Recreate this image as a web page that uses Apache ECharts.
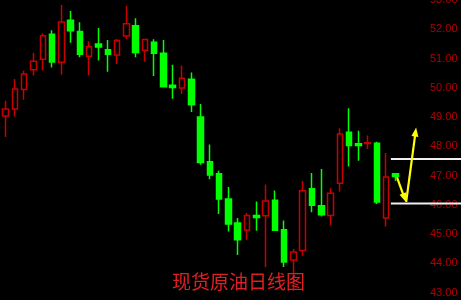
<!DOCTYPE html>
<html><head><meta charset="utf-8">
<script src="https://cdn.jsdelivr.net/npm/echarts@6/dist/echarts.min.js"></script>
<style>html,body{margin:0;padding:0;background:#000}#c{width:461px;height:300px}</style>
</head><body><div id="c"></div>
<script>
// 46 trading-day slots (the last three are empty future slots)
const categories = ['D01','D02','D03','D04','D05','D06','D07','D08','D09','D10','D11','D12','D13','D14','D15','D16','D17','D18','D19','D20','D21','D22','D23','D24','D25','D26','D27','D28','D29','D30','D31','D32','D33','D34','D35','D36','D37','D38','D39','D40','D41','D42','D43','D44','D45','D46'];
const opens  = [49.04,49.28,49.94,50.62,50.98,51.83,50.87,52.31,51.92,51.08,51.50,51.30,51.12,51.77,52.12,51.28,51.56,51.18,50.09,49.99,50.29,49.00,47.47,47.06,46.20,45.38,45.14,45.64,45.63,46.16,45.15,44.12,44.44,46.55,45.97,45.64,46.74,48.48,48.09,48.10,48.11,45.55,47.06];
const closes = [49.28,49.96,50.47,50.91,51.78,50.88,52.25,51.95,51.15,51.40,51.39,51.15,51.62,52.19,51.21,51.65,51.18,50.04,50.01,50.33,49.42,47.45,47.02,46.20,45.35,44.81,45.64,45.57,46.13,45.13,44.05,44.39,46.48,45.99,45.66,46.40,48.42,48.03,48.03,48.12,46.10,46.95,46.97];
const lows   = [48.32,49.02,49.59,50.42,50.59,50.69,50.45,51.54,51.04,50.42,50.93,50.55,50.81,51.66,51.04,50.89,50.40,50.02,49.63,49.79,49.17,47.37,46.88,45.69,45.09,44.29,44.81,45.12,43.88,45.12,43.88,43.07,44.26,45.75,45.60,45.30,46.46,47.31,47.51,47.91,46.03,45.26,46.82];
const highs  = [49.56,50.30,50.58,51.20,51.86,51.97,52.83,52.62,52.24,51.59,52.04,51.63,51.67,52.80,52.38,51.68,51.66,51.63,50.79,50.76,50.52,49.45,48.06,47.17,46.61,45.55,45.72,46.12,46.70,46.49,45.47,44.49,46.82,47.09,47.23,46.57,48.62,49.30,48.53,48.37,48.16,47.77,47.06];
const yTicks = [43,44,45,46,47,48,49,50,51,52,53];
const levelLines = [47.57, 46.05];   // resistance / support
const levelStartIndex = 42;
// arrows: [[xIndex, value] start, [xIndex, value] end]
const arrows = [
  [[42.15, 46.95], [43.12, 46.10]],
  [[43.15, 46.10], [44.22, 48.64]]
];
const titleText = '现货原油日线图';

const candleData = opens.map((o, i) => [o, closes[i], lows[i], highs[i]]);

function toPx(api, x, y) {
  const base = Math.floor(x);
  const bw = api.size([1, 0])[0];
  const p = api.coord([base, y]);
  return [p[0] + (x - base) * bw, p[1]];
}

const chart = echarts.init(document.getElementById('c'), null, {renderer: 'canvas'});
chart.setOption({
  backgroundColor: '#000',
  animation: false,
  title: {
    text: titleText, left: 172, top: 272, padding: 0,
    textStyle: {color: '#e02020', fontSize: 19, fontWeight: 'normal', fontFamily: 'Noto Sans CJK SC'}
  },
  grid: {left: 1, right: 33, top: 0, bottom: 7.3, containLabel: false, outerBoundsMode: 'none'},
  xAxis: {
    type: 'category', data: categories, boundaryGap: true,
    axisLine: {show: false}, axisTick: {show: false}, axisLabel: {show: false}, splitLine: {show: false}
  },
  yAxis: {
    type: 'value', position: 'right', min: yTicks[0], max: yTicks[yTicks.length - 1], interval: 1,
    axisLine: {show: false}, axisTick: {show: false}, splitLine: {show: false},
    axisLabel: {color: '#b00000', fontSize: 11, margin: 2, fontFamily: 'Liberation Sans',
      formatter: v => v.toFixed(2)}
  },
  series: [
    {
      type: 'candlestick', data: candleData, barWidth: 6,
      itemStyle: {color: '#000', color0: '#00ff00', borderColor: '#c80000', borderColor0: '#00ff00', borderWidth: 1.5}
    },
    {
      type: 'custom', clip: false, silent: true,
      data: levelLines.map(v => [levelStartIndex, v]),
      renderItem: (params, api) => {
        const p = api.coord([api.value(0), api.value(1)]);
        const bw = api.size([1, 0])[0];
        return {type: 'line', shape: {x1: p[0] - bw / 2, y1: p[1], x2: api.getWidth(), y2: p[1]},
          style: {stroke: '#f0f0f0', lineWidth: 2}};
      }
    },
    {
      type: 'custom', clip: false, silent: true,
      data: arrows.map(a => [Math.floor(a[0][0]), a[0][1]]),
      renderItem: (params, api) => {
        const a = arrows[params.dataIndex];
        const s = toPx(api, a[0][0], a[0][1]);
        const e = toPx(api, a[1][0], a[1][1]);
        const dx = e[0] - s[0], dy = e[1] - s[1];
        const len = Math.sqrt(dx * dx + dy * dy);
        const ux = dx / len, uy = dy / len;
        const px = -uy, py = ux;
        const L = 9, W = 7;
        const bx = e[0] - ux * L, by = e[1] - uy * L;
        return {type: 'group', children: [
          {type: 'line', shape: {x1: s[0], y1: s[1], x2: bx + ux * 2, y2: by + uy * 2},
            style: {stroke: '#ffff00', lineWidth: 2.2}},
          {type: 'polygon', shape: {points: [[e[0], e[1]], [bx + px * W / 2, by + py * W / 2], [bx - px * W / 2, by - py * W / 2]]},
            style: {fill: '#ffff00'}}
        ]};
      }
    }
  ]
});
</script></body></html>
